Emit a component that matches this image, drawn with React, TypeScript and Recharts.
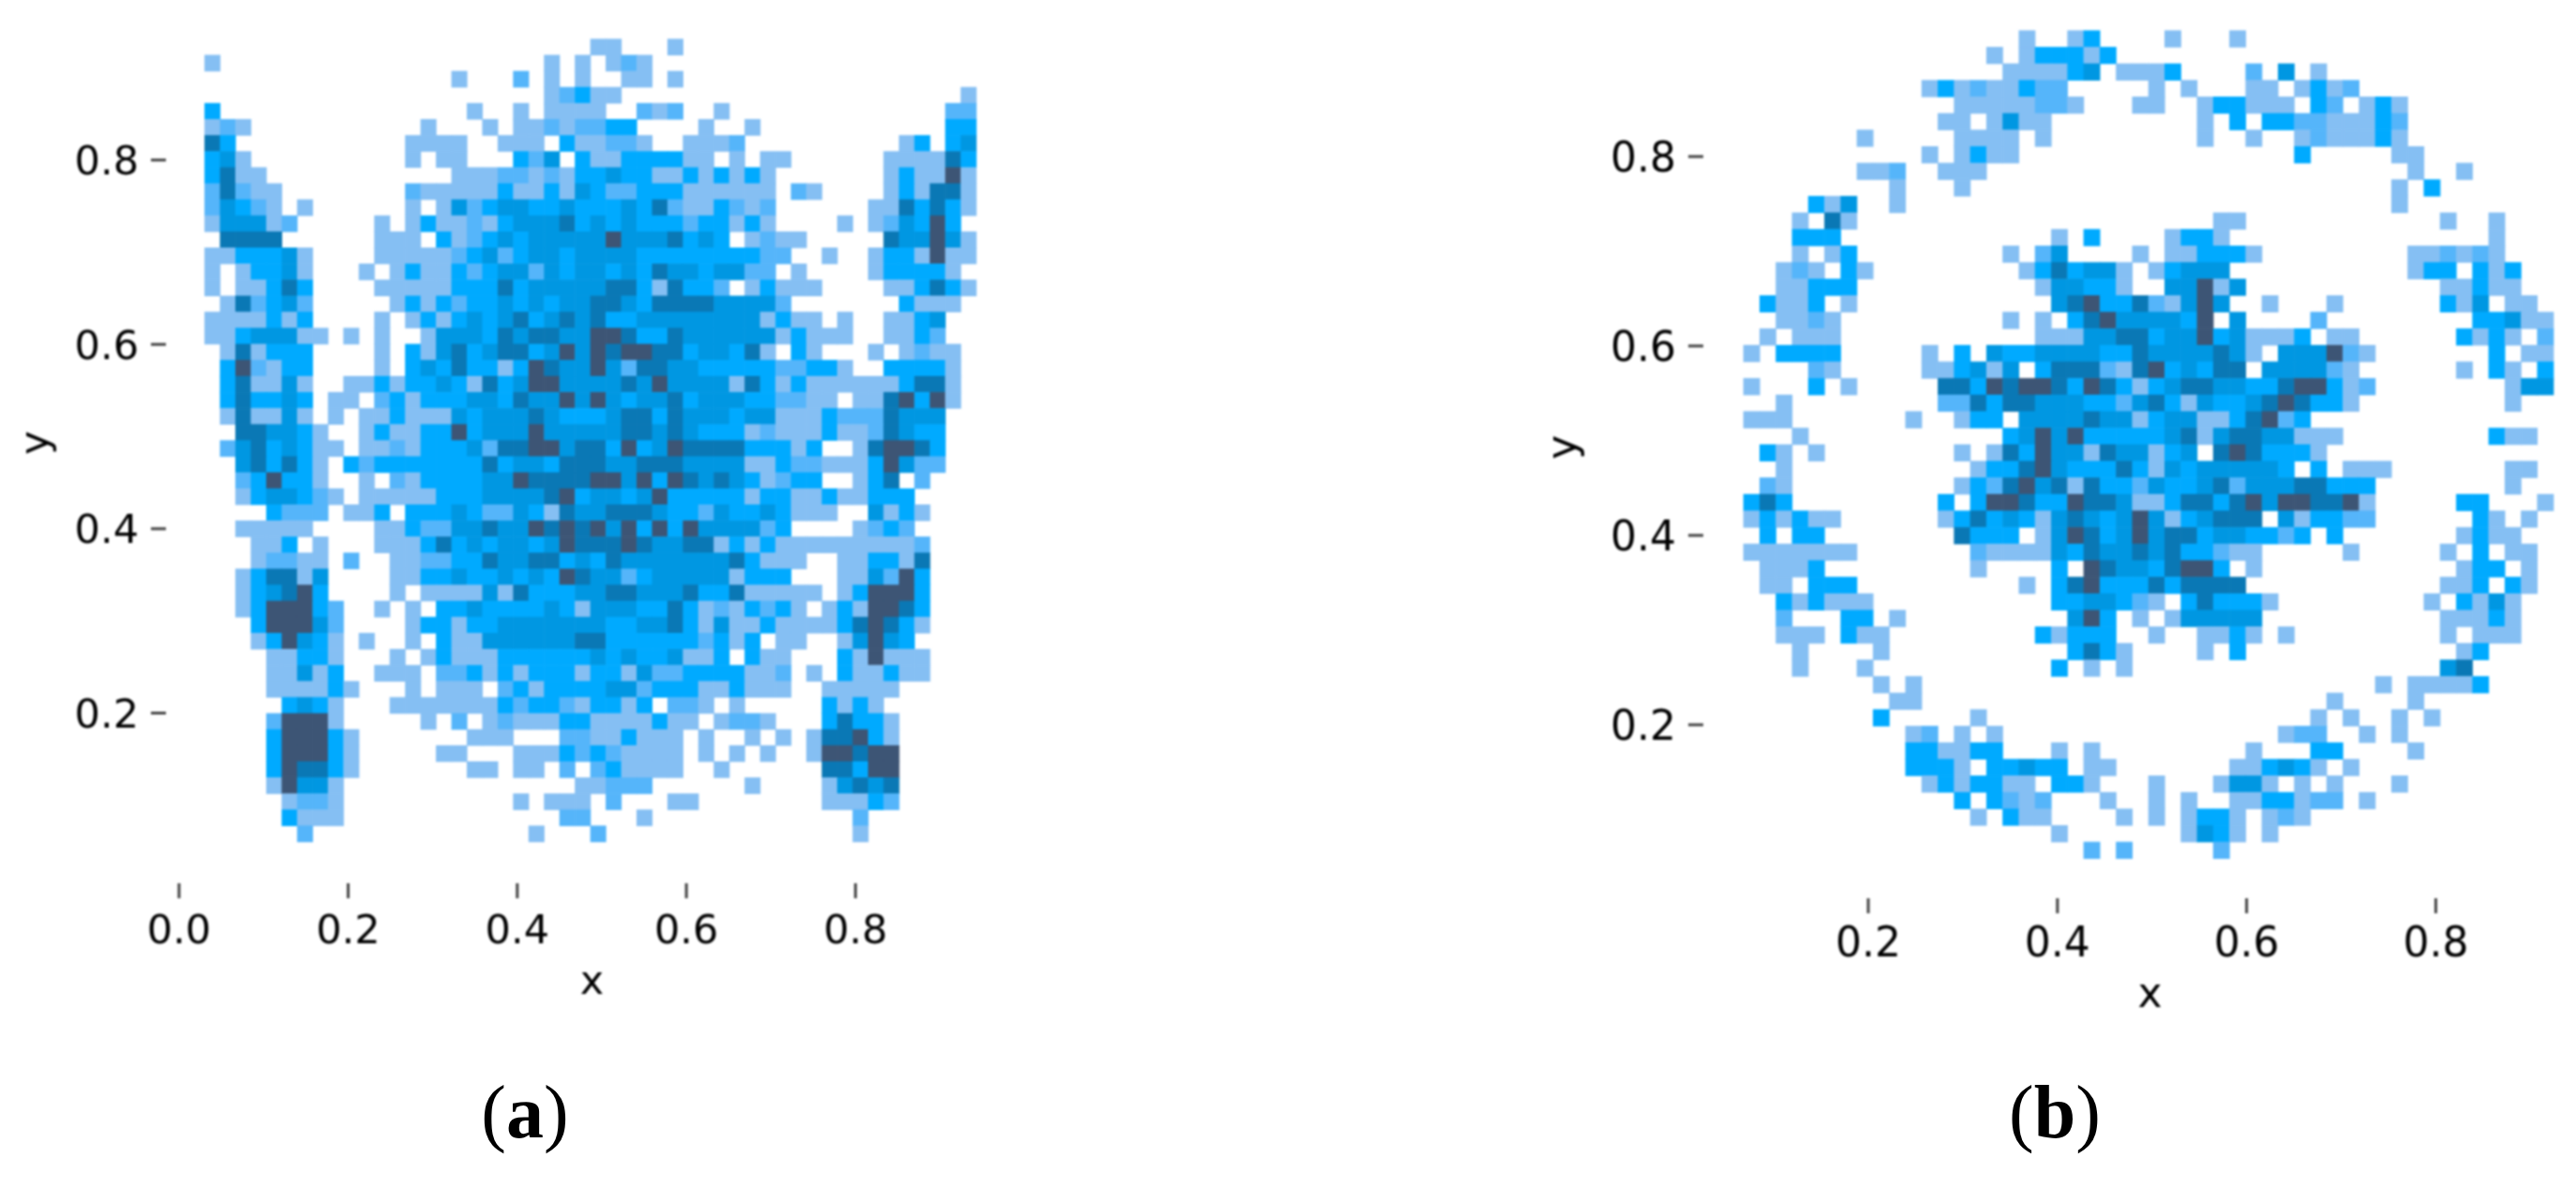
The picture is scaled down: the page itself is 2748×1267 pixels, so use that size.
import { ScatterChart, Scatter, XAxis, YAxis } from 'recharts';

// Histogram levels per row, top row first. Each entry is "startColumn:levels", level 1 (light) to 6 (navy).
const rowsA = [
  '25:11 30:1',
  '0:1 22:1 24:1 26:121',
  '16:1 20:2 22:1 24:1 27:11 30:1',
  '22:12311 49:1',
  '0:3 17:1 20:1 22:1111 28:212 33:1 48:22',
  '0:121 14:1 18:1 20:11212233 32:1 35:1 48:33',
  '0:53 13:1111 19:111 23:311221 31:1112 45:13 48:34',
  '0:341 13:1 15:11 20:324 24:311333311 34:1 36:11 44:111153',
  '0:3511 16:111221213343311313131 44:131161',
  '0:25211 13:211111311314322333111111 38:21 44:131551',
  '0:24321 6:1 13:1 15:1423443343334352113212 43:1153531',
  '0:144412 11:1 13:131121344453434333233131 41:1 43:124363',
  '1:5555 11:111 15:3123434444464445343 35:1211 44:544641',
  '0:1133341 11:111112342344344443333333322 40:1 43:1331611',
  '0:1 2:13341 10:1 12:1311323442434434354434422 38:1 43:133331',
  '0:1 2:11353 11:11111333534444455315332 35:13111 44:113531',
  '1:152342 12:13132334343445543555544442 45:3111',
  '0:1111313 11:1 13:131343453454533444444441311 41:1 44:11 46:34',
  '0:11344411 9:1 11:1 14:1444354554466533544444413111 44:1132',
  '1:151333 11:1 13:314534553464656655344351 38:31 43:1 45:1211',
  '1:362133 11:1 13:34353313654464255443333322331 44:33331',
  '1:351141 9:1131334315346644445464444153131111113551',
  '1:353343 8:11 11:231333443544646434453444332211 42:11 44:56361',
  '1:151141 8:1 10:1131114344454333455354443441113222 44:5444',
  '2:554431 10:13113363444644444554543331211131125433',
  '1:24534311 10:112133342556645536346555533313 42:156653',
  '2:453531 9:323333333534435554455544441132211136422',
  '2:236331 10:1 12:2133334465555664636545431233 42:135 46:2',
  '2:1344321 10:111113334444563443463333313311311333',
  '4:3222 9:113 13:3334322431544555433243343111 43:4131',
  '2:11111 11:113224454465656463636444423 42:1232',
  '3:113 7:1 11:111353434434655565445513131111111112',
  '3:12211 9:2 12:112233544553435444444453111 41:113315',
  '2:135514 12:11334334343654423444441333 41:114263',
  '2:134563 12:1 14:11114153334455444533511111 41:136663',
  '2:1366632 11:1 13:1 15:334333343144433531213231 40:1316653',
  '3:366642 13:1331334444444334453141131111356531',
  '3:136431 10:1 13:1 15:311444444553333332313 37:11 41:14643',
  '4:11331 12:1 14:13111333333434334113 35:311 41:316111',
  '4:11413 11:111 15:22313133313314223333112 39:1 41:311311',
  '4:111131 13:1 15:111 19:2313333442333113111 40:11111',
  '5:3431 12:11111113233213313 30:221 34:1 40:3131',
  '4:26661 14:1 16:2 18:12111331111311 33:1221 40:35331',
  '4:366631 17:111 23:22113111 32:1 35:1 37:1 39:155631',
  '4:366631 15:11 20:11132321111 32:1 34:1 36:1 39:166566',
  '4:365531 17:11 20:11 23:2 25:231111 33:1 40:55366',
  '4:16441 24:11222 35:1 40:14545',
  '5:1221 20:1 22:111 26:2 30:11 40:11132',
  '5:3111 23:22 28:1 42:2',
  '6:2 21:1 25:2 42:1',
];

const rowsB = [
  '17:1 20:13 26:1 30:1',
  '15:1 17:133313',
  '16:111134 23:1113 31:2 33:4 35:1',
  '11:131211322 25:1 27:1 31:11 34:1312',
  '13:11111221 24:11 28:133111 35:32 38:131',
  '12:11 15:1411 28:1 30:3 32:332211132',
  '7:1 13:1111 18:1 28:1 31:1 34:1211131',
  '11:1 13:1311 34:3 40:11',
  '7:112 12:111 41:1 44:1',
  '9:1 13:1 40:1 42:3',
  '4:314 9:1 40:1',
  '3:1 5:51 29:11 43:1 46:1',
  '3:333 19:1 21:3 26:1331 46:1',
  '3:1 5:13 16:1 18:24 24:1 26:113331 41:112121',
  '2:121 6:31 17:1353441 25:13444 41:133 45:313',
  '2:11333 18:144331 26:44614 43:11311',
  '1:3113 6:1 19:45633521464 32:1 36:1 43:314 47:11',
  '2:1121 16:1 18:1 20:356444436 30:4 35:2 45:33411',
  '1:1 3:111 18:11144553446341113 36:11 44:3131 49:2',
  '0:1 2:3333 11:1 13:3 15:43344443354444541 33:444621 46:3 48:11',
  '4:21 11:113414 18:3555215634355 32:444421 44:1 46:31 49:3',
  '0:1 4:3 6:1 12:553656653653134554433566312 47:144',
  '2:1 12:22535544433245314334565331 47:1',
  '0:111 10:1 13:133 17:444454413441135623',
  '3:1 16:346463333345145544111 46:311',
  '1:31 4:1 13:1 15:1536441544134 29:5653331',
  '2:1 14:13356433353143444443 35:3 37:111 47:11',
  '1:21 13:13256451533243345244455333 47:1',
  '0:353 12:3 14:3665336554113553564665561 44:33 49:1',
  '0:131311 12:13534314543464134555 33:413322 45:31 48:1',
  '1:3 3:33 13:5333 18:14653464553443323 36:3 44:1311',
  '0:1111111 14:211114354454533211 37:1 43:1 45:3 47:11',
  '1:1113 14:1 19:3 21:654435663 31:1 44:133 48:1',
  '1:11 4:333 17:1 19:356333535555 43:113 47:31',
  '2:313111 19:3344321 27:353331 42:1 44:3141',
  '2:2 6:33 9:1 20:463 24:1 26:144444 43:11131',
  '2:111 6:311 18:31333 25:1 28:1131 33:1 43:1 45:111',
  '3:1 8:1 20:3531 28:1 30:3 44:13',
  '3:1 7:1 19:3 21:1 23:1 43:45',
  '8:1 10:1 39:1 41:1111 45:3',
  '9:11 36:1 41:1',
  '8:3 14:1 35:1 37:1 40:1 42:1',
  '10:12 13:1 15:1 33:122 38:1 40:1',
  '10:331133 19:1 21:1 31:1 35:33 41:1',
  '10:3331 15:33433 21:11 30:113431 37:1',
  '11:1313311 19:331 25:1 29:1441 34:1 36:1 40:1',
  '13:3 15:3212 22:1 25:1 27:1 30:1133122 38:1',
  '14:1 16:311 23:1 25:1 27:1331 32:121',
  '19:1 27:1431 32:1',
  '21:2 23:2 29:2',
];

const levelColors = ['#ffffff', '#85BFF3', '#55B5FA', '#00AAFF', '#0097E2', '#0A78B5', '#3D5575'];

const ticksA = [0, 0.2, 0.4, 0.6, 0.8];
const ticksB = [0.2, 0.4, 0.6, 0.8];
const yTicks = [0.2, 0.4, 0.6, 0.8];

const toCells = (rows: string[], xStart: number, binW: number, yTop: number, binH: number) => {
  const cells: { x: number; y: number; level: number }[] = [];
  rows.forEach((row, r) => {
    row.split(' ').forEach((seg) => {
      const [start, levels] = seg.split(':');
      levels.split('').forEach((lv, i) => {
        cells.push({
          x: xStart + (Number(start) + i + 0.5) * binW,
          y: yTop - (r + 0.5) * binH,
          level: Number(lv),
        });
      });
    });
  });
  return cells;
};

const TEXT = '#000000';
const TICK = '#444444';
const FONT = '"DejaVu Sans", sans-serif';

// small overlap so no seams show between neighbouring cells
const cellShape = (w: number, h: number) => (props: any) => {
  const level = props.payload ? props.payload.level : props.level;
  return (
    <rect
      x={props.cx - w / 2 - 0.3}
      y={props.cy - h / 2 - 0.3}
      width={w + 0.6}
      height={h + 0.6}
      fill={levelColors[level]}
    />
  );
};

interface PanelProps {
  left: number;
  width: number;
  plotLeft: number;
  plotRight: number;
  plotTop: number;
  plotBottom: number;
  xDomain: [number, number];
  yDomain: [number, number];
  xTicks: number[];
  cells: { x: number; y: number; level: number }[];
  cellW: number;
  cellH: number;
  xLabelDx: number;
  xLabelOffset: number;
  yLabelX: number;
  yLabelDy: number;
  tickGap: number;
  fontSize: number;
}

const HEIGHT = 1150;

const Panel = (p: PanelProps) => {
  const xAxisH = 130;
  return (
    <div style={{ position: 'absolute', left: p.left, top: 0, filter: 'blur(0.9px)' }}>
      <ScatterChart
        width={p.width}
        height={HEIGHT}
        margin={{
          top: p.plotTop,
          left: 0,
          right: p.left + p.width - p.plotRight,
          bottom: HEIGHT - p.plotBottom - xAxisH,
        }}
      >
        <XAxis
          type="number"
          dataKey="x"
          domain={p.xDomain}
          ticks={p.xTicks}
          allowDataOverflow
          height={xAxisH}
          axisLine={false}
          tickSize={16}
          tickMargin={p.tickGap}
          tickLine={{ stroke: TICK, strokeWidth: 3 }}
          tick={{ fill: TEXT, fontSize: p.fontSize, fontFamily: FONT }}
          tickFormatter={(v: number) => v.toFixed(1)}
          label={{
            value: 'x',
            position: 'insideBottom',
            offset: p.xLabelOffset,
            dx: p.xLabelDx,
            fill: TEXT,
            fontSize: p.fontSize,
            fontFamily: FONT,
          }}
        />
        <YAxis
          type="number"
          dataKey="y"
          domain={p.yDomain}
          ticks={yTicks}
          allowDataOverflow
          width={p.plotLeft - p.left}
          axisLine={false}
          tickSize={16}
          tickMargin={13}
          tickLine={{ stroke: TICK, strokeWidth: 3 }}
          tick={{ fill: TEXT, fontSize: p.fontSize, fontFamily: FONT }}
          tickFormatter={(v: number) => v.toFixed(1)}
          label={{
            value: 'y',
            angle: -90,
            position: 'insideLeft',
            offset: p.yLabelX - p.left,
            dy: p.yLabelDy,
            fill: TEXT,
            fontSize: p.fontSize,
            fontFamily: FONT,
          }}
        />
        <Scatter data={p.cells} isAnimationActive={false} shape={cellShape(p.cellW, p.cellH)} />
      </ScatterChart>
    </div>
  );
};

const Caption = ({ letter, center }: { letter: string; center: number }) => (
  <div
    style={{
      position: 'absolute',
      left: center - 100,
      width: 200,
      top: 1146,
      textAlign: 'center',
      fontFamily: '"Liberation Serif", serif',
      fontSize: 80,
      lineHeight: '80px',
      color: '#000',
    }}
  >
    (<b>{letter}</b>)
  </div>
);

const App = () => {
  const cellsA = toCells(rowsA, 0.03038, 0.01825, 0.93123, 0.01742);
  const cellsB = toCells(rowsB, 0.06819, 0.017126, 0.93297, 0.017485);

  return (
    <div style={{ position: 'absolute', left: 0, top: 0, width: 2748, height: 1267, background: '#fff', overflow: 'hidden' }}>
      <Panel
        left={0}
        width={1300}
        plotLeft={177}
        plotRight={1060}
        plotTop={30}
        plotBottom={942}
        xDomain={[-0.01552, 0.9634]}
        yDomain={[0.01536, 0.9431]}
        xTicks={ticksA}
        cells={cellsA}
        cellW={16.46}
        cellH={17.12}
        xLabelDx={13}
        xLabelOffset={12}
        yLabelX={36}
        yLabelDy={-1}
        tickGap={17}
        fontSize={43}
      />
      <Panel
        left={1500}
        width={1248}
        plotLeft={1817}
        plotRight={2740}
        plotTop={20}
        plotBottom={958}
        xDomain={[0.02557, 0.9403]}
        yDomain={[0.01683, 0.9455]}
        xTicks={ticksB}
        cells={cellsB}
        cellW={17.28}
        cellH={17.66}
        xLabelDx={15}
        xLabelOffset={14}
        yLabelX={1665}
        yLabelDy={1}
        tickGap={15}
        fontSize={44}
      />
      <Caption letter="a" center={560} />
      <Caption letter="b" center={2192} />
    </div>
  );
};

export default App;
